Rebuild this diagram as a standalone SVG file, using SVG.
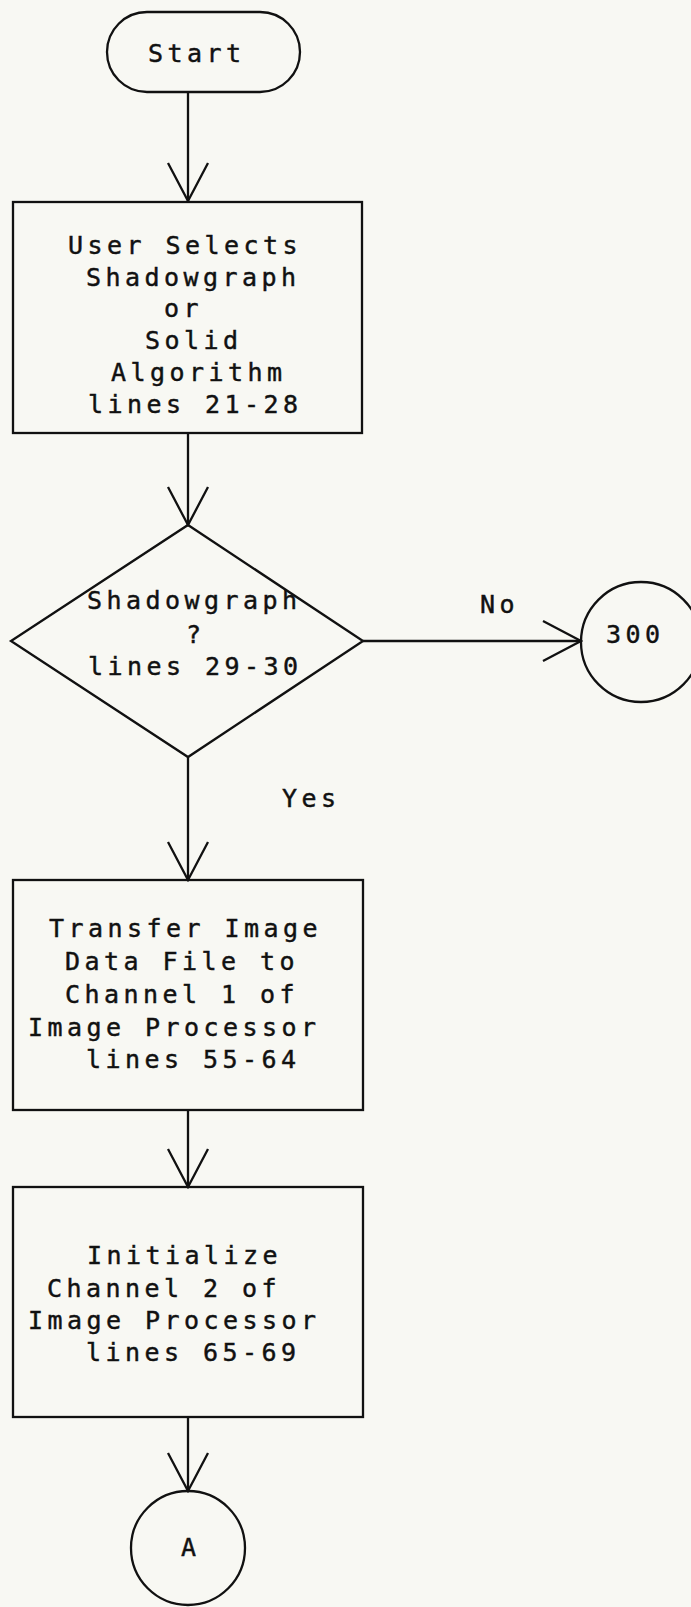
<svg xmlns="http://www.w3.org/2000/svg" width="691" height="1607" viewBox="0 0 691 1607">
  <style>
    .shape { fill: none; stroke: #111; stroke-width: 2.3; }
    .wire { fill: none; stroke: #111; stroke-width: 2.3; }
    .txt { font-family: "DejaVu Sans Mono", "Liberation Mono", monospace; font-size: 25px; letter-spacing: 4.45px; fill: #111; stroke: #111; stroke-width: 0.45; }
  </style>
  <defs>
    <!-- open V arrowhead, plotter style -->
    <marker id="vee" markerUnits="userSpaceOnUse" markerWidth="44" markerHeight="48" viewBox="-42 -24 44 48" refX="0" refY="0" orient="auto">
      <path d="M -38 -20 L 0 0 L -38 20" fill="none" stroke="#111" stroke-width="2.3"/>
    </marker>
  </defs>

  <rect width="691" height="1607" fill="#f8f8f3"/>

  <!-- connectors -->
  <g id="connectors">
    <line class="wire" x1="188" y1="92" x2="188" y2="201" marker-end="url(#vee)"/>
    <line class="wire" x1="188" y1="433" x2="188" y2="525" marker-end="url(#vee)"/>
    <line class="wire" x1="363" y1="641" x2="581" y2="641" marker-end="url(#vee)"/>
    <text class="txt" x="480" y="613">No</text>
    <line class="wire" x1="188" y1="757" x2="188" y2="880" marker-end="url(#vee)"/>
    <text class="txt" x="282" y="807">Yes</text>
    <line class="wire" x1="188" y1="1110" x2="188" y2="1187" marker-end="url(#vee)"/>
    <line class="wire" x1="188" y1="1417" x2="188" y2="1491" marker-end="url(#vee)"/>
  </g>

  <!-- start terminal -->
  <g id="start">
    <rect class="shape" x="107" y="12" width="193" height="80" rx="40" ry="40"/>
    <text class="txt" x="148" y="62">Start</text>
  </g>

  <!-- algorithm selection -->
  <g id="select-algorithm">
    <rect class="shape" x="13" y="202" width="349" height="231"/>
    <text class="txt" x="68" y="254">User Selects</text>
    <text class="txt" x="86" y="286">Shadowgraph</text>
    <text class="txt" x="164" y="317">or</text>
    <text class="txt" x="145" y="349">Solid</text>
    <text class="txt" x="111" y="381">Algorithm</text>
    <text class="txt" x="88" y="413">lines 21-28</text>
  </g>

  <!-- decision -->
  <g id="is-shadowgraph">
    <polygon class="shape" points="188,525 363,641 188,757 11,641"/>
    <text class="txt" x="87" y="609">Shadowgraph</text>
    <text class="txt" x="186" y="643">?</text>
    <text class="txt" x="88" y="675">lines 29-30</text>
  </g>

  <!-- off-page connector 300 -->
  <g id="goto-300">
    <circle class="shape" cx="641" cy="642" r="60"/>
    <text class="txt" x="606" y="643">300</text>
  </g>

  <!-- transfer image data -->
  <g id="transfer-image">
    <rect class="shape" x="13" y="880" width="350" height="230"/>
    <text class="txt" x="49" y="937">Transfer Image</text>
    <text class="txt" x="65" y="970">Data File to</text>
    <text class="txt" x="65" y="1003">Channel 1 of</text>
    <text class="txt" x="28" y="1036">Image Processor</text>
    <text class="txt" x="86" y="1068">lines 55-64</text>
  </g>

  <!-- initialize channel 2 -->
  <g id="init-channel-2">
    <rect class="shape" x="13" y="1187" width="350" height="230"/>
    <text class="txt" x="87" y="1264">Initialize</text>
    <text class="txt" x="47" y="1297">Channel 2 of</text>
    <text class="txt" x="28" y="1329">Image Processor</text>
    <text class="txt" x="86" y="1361">lines 65-69</text>
  </g>

  <!-- connector A -->
  <g id="goto-A">
    <circle class="shape" cx="188" cy="1548" r="57"/>
    <text class="txt" x="181" y="1556">A</text>
  </g>
</svg>
